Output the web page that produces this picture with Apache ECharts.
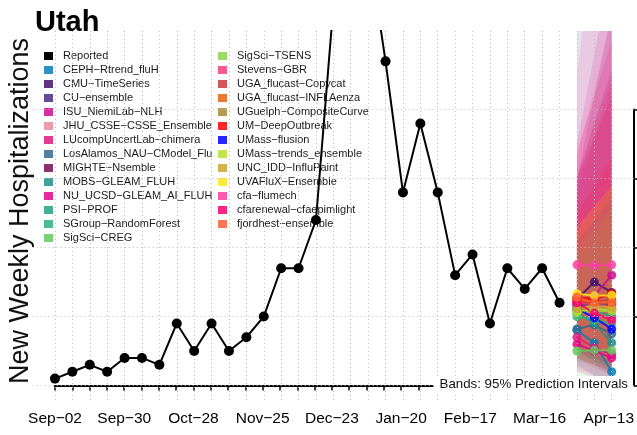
<!DOCTYPE html>
<html><head><meta charset="utf-8">
<script src="https://cdn.jsdelivr.net/npm/echarts@6/dist/echarts.min.js"></script>
<style>html,body{margin:0;padding:0;background:#fff}#c{width:637px;height:435px}</style>
</head><body><div id="c"></div>
<script>
const weeks = ['Sep−02','Sep−09','Sep−16','Sep−23','Sep−30','Oct−07','Oct−14','Oct−21','Oct−28',
  'Nov−04','Nov−11','Nov−18','Nov−25','Dec−02','Dec−09','Dec−16','Dec−23','Dec−30',
  'Jan−06','Jan−13','Jan−20','Jan−27','Feb−03','Feb−10','Feb−17','Feb−24',
  'Mar−02','Mar−09','Mar−16','Mar−23','Mar−30','Apr−06','Apr−13'];
const reported = [10,20,30,20,40,40,30,90,50,90,50,70,100,170,170,240,550,700,640,470,280,380,280,160,190,90,170,140,170,120];
const forecastWeeks = ['Mar−30','Apr−06','Apr−13'];
const gridTicks = [0,100,200,300,400];
const models = ['CEPH−Rtrend_fluH','CMU−TimeSeries','CU−ensemble','ISU_NiemiLab−NLH','JHU_CSSE−CSSE_Ensemble',
  'LUcompUncertLab−chimera','LosAlamos_NAU−CModel_Flu','MIGHTE−Nsemble','MOBS−GLEAM_FLUH','NU_UCSD−GLEAM_AI_FLUH',
  'PSI−PROF','SGroup−RandomForest','SigSci−CREG','SigSci−TSENS','Stevens−GBR','UGA_flucast−Copycat',
  'UGA_flucast−INFLAenza','UGuelph−CompositeCurve','UM−DeepOutbreak','UMass−flusion','UMass−trends_ensemble',
  'UNC_IDD−InfluPaint','UVAFluX−Ensemble','cfa−flumech','cfarenewal−cfaepimlight','fjordhest−ensemble'];
const modelColors = ['#0a7dbb','#44126f','#4b2c86','#cc0a8c','#e8899a','#e0197f','#31698f','#7a0d58','#21918c','#e0058a',
  '#25a287','#2db27d','#62ca5e','#8ad54a','#ff3d7a','#c83a40','#e8640c','#a88b35','#ff0000','#0000ff',
  '#b5e02f','#c8a82a','#ffe51c','#ff3ea0','#ff006a','#ff6035'];
const median = [[80,62,20],[125,150,135],[115,120,118],[120,130,160],[108,112,110],[70,55,45],[82,88,75],[118,122,120],
  [105,90,62],[60,50,40],[110,108,100],[100,95,90],[50,51,51],[105,108,108],[120,118,110],[122,120,125],
  [125,120,122],[110,108,112],[128,125,133],[112,98,82],[108,110,110],[112,115,113],[133,130,131],
  [175,174,175],[120,105,95],[128,120,120]];
const lower95 = [[30,15,5],[60,50,35],[55,40,30],[50,40,30],[50,35,25],[25,15,10],[35,30,20],[55,45,35],
  [45,30,15],[20,12,8],[50,40,30],[45,35,25],[15,10,8],[40,30,25],[50,40,30],[40,25,15],
  [55,45,35],[50,40,30],[60,50,45],[50,35,25],[45,35,25],[40,30,20],[60,45,35],
  [60,45,35],[40,30,20],[55,45,35]];
const upper95 = [[200,230,260],[300,420,540],[560,700,850],[350,480,620],[300,360,420],[300,380,450],[200,240,280],[300,380,460],
  [190,220,250],[300,360,420],[200,230,260],[180,210,240],[170,200,230],[190,220,250],[330,430,540],[280,360,440],
  [230,260,290],[220,250,280],[250,290,330],[210,240,270],[200,230,260],[230,260,290],[230,260,290],
  [450,650,850],[340,420,500],[220,250,280]];

const FONT = '"Liberation Sans", Arial, Helvetica, sans-serif';
const fx = forecastWeeks.map(w => weeks.indexOf(w));
function rgba(hex, a) {
  const n = parseInt(hex.slice(1), 16);
  return 'rgba(' + ((n >> 16) & 255) + ',' + ((n >> 8) & 255) + ',' + (n & 255) + ',' + a + ')';
}

const series = [];
series.push({
  type: 'line', xAxisIndex: 0, yAxisIndex: 0, data: [], silent: true, z: 0,
  markLine: {
    silent: true, symbol: ['none', 'none'], label: {show: false}, animation: false,
    lineStyle: {color: '#bdbdbd', type: [1, 3], width: 1},
    emphasis: {disabled: true},
    data: gridTicks.map(v => ({yAxis: v})).concat(weeks.map((w, i) => ({xAxis: i})))
  }
});
series.push({
  type: 'custom', xAxisIndex: 0, yAxisIndex: 0, clip: true, silent: true, z: 2,
  data: models.map((m, i) => [fx[0], i]),
  encode: {x: 0, y: 1},
  renderItem: function (params, api) {
    const i = params.dataIndex;
    const pts = [];
    for (let k = 0; k < fx.length; k++) pts.push(api.coord([fx[k], upper95[i][k]]));
    for (let k = fx.length - 1; k >= 0; k--) pts.push(api.coord([fx[k], lower95[i][k]]));
    return {type: 'polygon', shape: {points: pts}, style: {fill: rgba(modelColors[i], 0.14), stroke: null}};
  }
});
series.push({
  name: 'Reported', type: 'line', xAxisIndex: 0, yAxisIndex: 0, clip: true, z: 5,
  data: reported.map((v, i) => [i, v]),
  symbol: 'circle', symbolSize: 10, showAllSymbol: true,
  lineStyle: {color: '#000', width: 2}, itemStyle: {color: '#000'}
});
models.forEach((m, i) => {
  series.push({
    name: m, type: 'line', xAxisIndex: 0, yAxisIndex: 0, clip: true, z: 4,
    data: fx.map((x, k) => [x, median[i][k]]),
    symbol: 'circle', symbolSize: 9,
    lineStyle: {color: modelColors[i], width: 2, opacity: 0.85},
    itemStyle: {color: modelColors[i], opacity: 0.85}
  });
});

const legendBase = {
  orient: 'vertical', icon: 'rect', itemWidth: 9, itemHeight: 8, itemGap: 0, padding: 0,
  selectedMode: false, top: 49,
  textStyle: {fontSize: 11, lineHeight: 14, color: '#1a1a1a', fontFamily: FONT, padding: [0, 0, 0, 5]}
};

const chart = echarts.init(document.getElementById('c'), null, {renderer: 'canvas'});
chart.setOption({
  animation: false,
  backgroundColor: '#fff',
  grid: [
    {left: 32.7, right: 3, top: 31, bottom: 35},
    {left: 55, right: 25.2, top: 31, bottom: 35},
    {left: 32.7, right: 3, top: 109.6, bottom: 49.5}
  ],
  xAxis: [
    {gridIndex: 0, type: 'value', min: -1.28, max: 33.28, show: false},
    {gridIndex: 1, type: 'category', data: weeks, boundaryGap: false,
      axisLine: {lineStyle: {color: '#000', width: 2}},
      axisTick: {show: true, interval: 0, length: 5, lineStyle: {color: '#000', width: 1.5}},
      axisLabel: {interval: 3, fontSize: 15.5, color: '#000', margin: 11, fontFamily: FONT},
      splitLine: {show: false}},
    {gridIndex: 2, type: 'value', min: 0, max: 1, show: false}
  ],
  yAxis: [
    {gridIndex: 0, type: 'value', min: -21, max: 514, show: false},
    {gridIndex: 1, type: 'value', min: -21, max: 514, show: false},
    {gridIndex: 2, type: 'value', min: 0, max: 400, interval: 100, position: 'right',
      axisLine: {show: true, onZero: false, lineStyle: {color: '#000', width: 2}},
      axisTick: {show: true, length: 6, lineStyle: {color: '#000', width: 1.5}},
      axisLabel: {show: false}, splitLine: {show: false}}
  ],
  legend: [
    Object.assign({}, legendBase, {left: 44, data: ['Reported'].concat(models.slice(0, 13))}),
    Object.assign({}, legendBase, {left: 218, data: models.slice(13)})
  ],
  graphic: [
    {type: 'text', x: 35, y: 23, z: 10,
      style: {text: 'Utah', font: 'bold 29px ' + FONT, fill: '#000', verticalAlign: 'middle', align: 'left'}},
    {type: 'text', x: 21, y: 211, rotation: Math.PI / 2, z: 10,
      style: {text: 'New Weekly Hospitalizations', font: '27px ' + FONT, fill: '#111', align: 'center', verticalAlign: 'middle'}},
    {type: 'text', right: 5, top: 376, z: 10,
      style: {text: 'Bands: 95% Prediction Intervals', font: '13.3px ' + FONT, fill: '#111',
        backgroundColor: '#fff', padding: [2, 4, 1, 6]}}
  ],
  series: series
});
</script></body></html>
